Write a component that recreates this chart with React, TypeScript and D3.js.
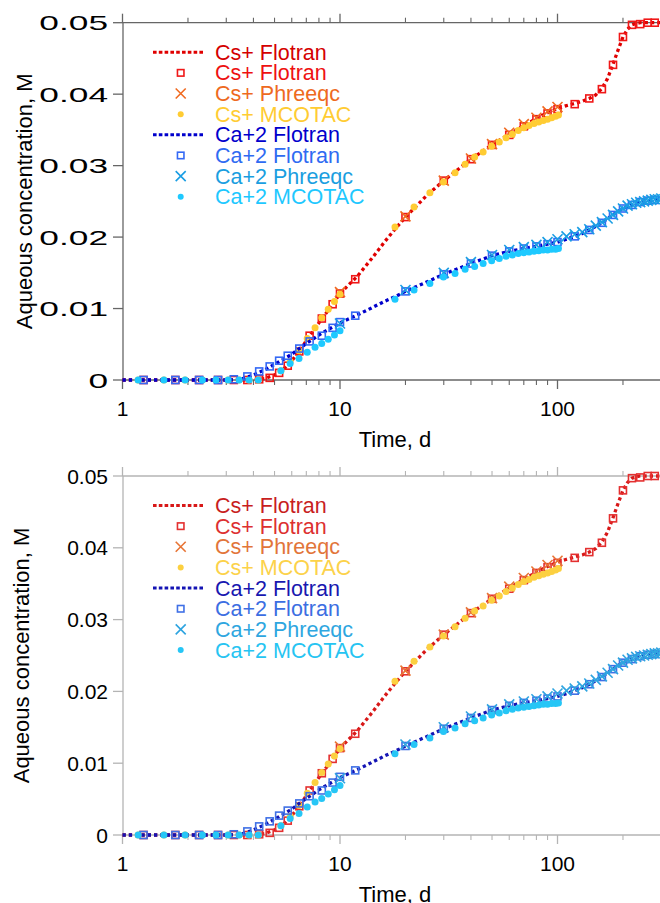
import React from "react";
import * as d3 from "d3";

// ---------- data ----------
const lineT = [1, 2, 3, 3.5, 3.75, 4, 4.25, 4.5, 5, 5.5, 6, 6.5, 7, 7.5, 8, 9, 10, 12, 14, 16, 18, 20, 25, 30, 35, 40, 50, 60, 70, 80, 90, 100, 110, 120, 130, 140, 150, 160, 170, 180, 190, 200, 210, 220, 230, 240, 260, 280, 300];
const csLineC = [0, 0, 0, 0, 0, 0, 0.0001, 0.0002, 0.0007, 0.0015, 0.0027, 0.004, 0.0055, 0.0068, 0.008, 0.0101, 0.0121, 0.0145, 0.017, 0.0193, 0.0212, 0.0228, 0.0258, 0.0279, 0.0295, 0.0309, 0.0329, 0.0344, 0.0356, 0.0366, 0.0374, 0.038, 0.0384, 0.0387, 0.039, 0.0394, 0.0399, 0.0408, 0.0422, 0.0442, 0.0462, 0.048, 0.0491, 0.0497, 0.0499, 0.05, 0.05, 0.05, 0.05];
const caLineC = [0, 0, 0, 0.0001, 0.0004, 0.0007, 0.0011, 0.0014, 0.0022, 0.0029, 0.0036, 0.0044, 0.0051, 0.0057, 0.0063, 0.0072, 0.008, 0.0091, 0.0101, 0.011, 0.0117, 0.0124, 0.0137, 0.0148, 0.0156, 0.0163, 0.0174, 0.018, 0.0184, 0.0187, 0.019, 0.0193, 0.0197, 0.0201, 0.0205, 0.021, 0.0215, 0.022, 0.0226, 0.0231, 0.0236, 0.024, 0.0243, 0.0245, 0.0247, 0.0249, 0.0251, 0.0252, 0.0253];

const flotranT = [1.25, 1.75, 2.25, 2.75, 3.25, 3.75, 4.25, 4.75, 5.25, 5.75, 6.5, 7.25, 8.25, 9.25, 10, 11.75, 20, 30, 40, 50, 60, 70, 80, 90, 100, 120, 140, 160, 180, 200, 220, 240, 260, 280];
const csFlotranC = [0, 0, 0, 0, 0, 0, 0.0001, 0.0003, 0.001, 0.002, 0.004, 0.0062, 0.0086, 0.0106, 0.0121, 0.0141, 0.0228, 0.0279, 0.0309, 0.0329, 0.0343, 0.0355, 0.0365, 0.0373, 0.0379, 0.0386, 0.0394, 0.0407, 0.0441, 0.048, 0.0497, 0.0498, 0.05, 0.05];
const caFlotranC = [0, 0, 0, 0, 0.0001, 0.0005, 0.0012, 0.0019, 0.0027, 0.0034, 0.0044, 0.0054, 0.0062, 0.0073, 0.0081, 0.009, 0.0124, 0.0148, 0.0163, 0.0174, 0.018, 0.0184, 0.0187, 0.019, 0.0193, 0.0201, 0.021, 0.022, 0.0231, 0.024, 0.0245, 0.0249, 0.0251, 0.0252];

const csPhreeqcT = [10, 20, 30, 40, 50, 60, 70, 80, 90, 100];
const csPhreeqcC = [0.0123, 0.0229, 0.0279, 0.031, 0.033, 0.0346, 0.0358, 0.0367, 0.0376, 0.0382];
const caPhreeqcT = [10, 20, 30, 40, 50, 60, 70, 80, 90, 100, 110, 120, 130, 140, 150, 160, 170, 180, 190, 200, 210, 220, 230, 240, 250, 260, 270, 280, 290, 300];
const caPhreeqcC = [0.0079, 0.0126, 0.015, 0.0165, 0.0175, 0.0182, 0.0186, 0.0189, 0.0193, 0.0197, 0.0201, 0.0204, 0.0207, 0.0211, 0.0216, 0.0221, 0.0226, 0.0231, 0.0236, 0.024, 0.0244, 0.0246, 0.0248, 0.0249, 0.025, 0.0251, 0.0252, 0.0253, 0.0253, 0.0254];

const mcotacT = [1.18, 1.55, 1.94, 2.33, 2.69, 3.06, 3.44, 3.82, 4.21, 5.35, 5.9, 6.48, 7.07, 7.68, 8.24, 8.83, 9.43, 10, 17.9, 21.9, 25.9, 29.9, 33.8, 37.6, 41.6, 45.5, 49.8, 54, 58, 62, 66, 70, 74, 78, 82, 86, 90, 94, 98, 101];
const csMcotacC = [0, 0, 0, 0, 0, 0, 0, 0, 0, 0.0013, 0.0026, 0.0041, 0.0058, 0.0073, 0.0087, 0.0099, 0.011, 0.012, 0.0214, 0.0242, 0.0262, 0.0277, 0.029, 0.0302, 0.0312, 0.0319, 0.0327, 0.0333, 0.0339, 0.0344, 0.0349, 0.0353, 0.0356, 0.0359, 0.0361, 0.0363, 0.0365, 0.0367, 0.0369, 0.0371];
const caMcotacC = [0, 0, 0, 0, 0, 0, 0, 0, 0, 0.0013, 0.0023, 0.003, 0.0039, 0.0046, 0.0051, 0.0057, 0.0063, 0.0069, 0.0113, 0.0126, 0.0135, 0.0144, 0.0149, 0.0155, 0.0159, 0.0163, 0.0167, 0.017, 0.0173, 0.0175, 0.0177, 0.0178, 0.0179, 0.018, 0.0181, 0.0182, 0.0182, 0.0183, 0.0183, 0.0184];

const legendLabels = ["Cs+ Flotran", "Cs+ Flotran", "Cs+ Phreeqc", "Cs+ MCOTAC", "Ca+2 Flotran", "Ca+2 Flotran", "Ca+2 Phreeqc", "Ca+2 MCOTAC"];
const legendKinds = ["line", "square", "x", "dot", "line", "square", "x", "dot"];
const xMajorTicks = [1, 10, 100];
const xMajorLabels = ["1", "10", "100"];
const xMinorTicks = [2, 3, 4, 5, 6, 7, 8, 9, 20, 30, 40, 50, 60, 70, 80, 90, 200, 300];
const yTicks = [0, 0.01, 0.02, 0.03, 0.04, 0.05];
const yTickLabels = ["0", "0.01", "0.02", "0.03", "0.04", "0.05"];
const xTitle = "Time, d";
const yTitle = "Aqueous concentration, M";

const FONT = "'Liberation Sans', Arial, Helvetica, sans-serif";

type Palette = {
  csLine: string; csSq: string; csX: string; csDot: string;
  caLine: string; caSq: string; caX: string; caDot: string;
  text: string[]; axis: string;
};

const pal1: Palette = {
  csLine: "#e00000", csSq: "#f01818", csX: "#f06a20", csDot: "#ffcc33",
  caLine: "#0000cc", caSq: "#3469f5", caX: "#1a9ee4", caDot: "#1ec9ff",
  text: ["#d40000", "#ee1111", "#ee6a1e", "#ffcc33", "#0000cc", "#2f6bf2", "#1a9ee0", "#1ec8ff"],
  axis: "#666666",
};
const pal2: Palette = {
  csLine: "#d81818", csSq: "#e43030", csX: "#e87434", csDot: "#fcd040",
  caLine: "#1414b4", caSq: "#3f70e6", caX: "#2ea4e0", caDot: "#26c6f6",
  text: ["#c81e1e", "#dd3030", "#e2753a", "#fcd24a", "#1818b0", "#3c6ee2", "#2ea6e0", "#26c4f2"],
  axis: "#b4b4b4",
};

function Square({ x, y, c, s = 7 }: any) {
  return <rect x={x - s / 2} y={y - s / 2} width={s} height={s} fill="none" stroke={c} strokeWidth={1.6} />;
}
function Cross({ x, y, c, s = 5 }: any) {
  return <path d={`M${x - s},${y - s}L${x + s},${y + s}M${x - s},${y + s}L${x + s},${y - s}`} stroke={c} strokeWidth={1.6} fill="none" />;
}

function Panel({ y0, y1, p, yTitleX, yLabStretch }: { y0: number; y1: number; p: Palette; yTitleX: number; yLabStretch: number }) {
  const x = d3.scaleLog().domain([1, 100]).range([122.5, 557.5]);
  const y = d3.scaleLinear().domain([0, 0.05]).range([y0, y1]);
  const xL = 123, xR = 662;
  const line = d3.line<number>().x((_, i) => x(lineT[i])).y((d) => y(d));
  const legTop = y1 + 29.5;
  const step = 20.65;
  const markerColors = [p.csLine, p.csSq, p.csX, p.csDot, p.caLine, p.caSq, p.caX, p.caDot];
  return (
    <g>
      {/* axes */}
      <line x1={xL} x2={xR} y1={y0} y2={y0} stroke={p.axis} strokeWidth={1.3} />
      <line x1={xL} x2={xR} y1={y1} y2={y1} stroke={p.axis} strokeWidth={1.3} />
      <line x1={xL} x2={xL} y1={y0} y2={y1} stroke={p.axis} strokeWidth={1.3} />
      {xMajorTicks.map((t) => (
        <g key={"M" + t}>
          <line x1={x(t)} x2={x(t)} y1={y0} y2={y0 + 9} stroke={p.axis} strokeWidth={1.3} />
          <line x1={x(t)} x2={x(t)} y1={y1} y2={y1 - 9} stroke={p.axis} strokeWidth={1.3} />
        </g>
      ))}
      {xMinorTicks.map((t) => (
        <g key={"m" + t}>
          <line x1={x(t)} x2={x(t)} y1={y0} y2={y0 + 5} stroke={p.axis} strokeWidth={1.1} />
          <line x1={x(t)} x2={x(t)} y1={y1} y2={y1 - 5} stroke={p.axis} strokeWidth={1.1} />
        </g>
      ))}
      {xMajorTicks.map((t, i) => (
        <text key={"xl" + t} x={x(t)} y={y0 + 36} textAnchor="middle" fontFamily={FONT} fontSize={21} fill="#000">{xMajorLabels[i]}</text>
      ))}
      {yTicks.map((v, i) => (
        <g key={"y" + v}>
          <line x1={xL - 10} x2={xL} y1={y(v)} y2={y(v)} stroke={p.axis} strokeWidth={1.3} />
          <text transform={`translate(108,${y(v) + 7.5}) scale(${yLabStretch},1)`} textAnchor="end" fontFamily={FONT} fontSize={21} fill="#000">{yTickLabels[i]}</text>
        </g>
      ))}
      <text x={395} y={y0 + 67} textAnchor="middle" fontFamily={FONT} fontSize={22} fill="#000">{xTitle}</text>
      <text transform={`translate(${yTitleX},${(y0 + y1) / 2}) rotate(-90)`} textAnchor="middle" fontFamily={FONT} fontSize={22} fill="#000">{yTitle}</text>

      {/* Cs+ */}
      <path d={line(csLineC) || ""} fill="none" stroke={p.csLine} strokeWidth={3.3} strokeDasharray="3.3,3" />
      {flotranT.map((t, i) => <Square key={"cs" + i} x={x(t)} y={y(csFlotranC[i])} c={p.csSq} />)}
      {csPhreeqcT.map((t, i) => <Cross key={"cx" + i} x={x(t)} y={y(csPhreeqcC[i])} c={p.csX} />)}
      {mcotacT.map((t, i) => <circle key={"cd" + i} cx={x(t)} cy={y(csMcotacC[i])} r={3.5} fill={p.csDot} />)}
      {/* Ca+2 */}
      <path d={line(caLineC) || ""} fill="none" stroke={p.caLine} strokeWidth={3.3} strokeDasharray="3.3,3" />
      {flotranT.map((t, i) => <Square key={"ca" + i} x={x(t)} y={y(caFlotranC[i])} c={p.caSq} />)}
      {caPhreeqcT.map((t, i) => <Cross key={"ax" + i} x={x(t)} y={y(caPhreeqcC[i])} c={p.caX} />)}
      {mcotacT.map((t, i) => <circle key={"ad" + i} cx={x(t)} cy={y(caMcotacC[i])} r={3.5} fill={p.caDot} />)}

      {/* legend */}
      {legendLabels.map((lab, i) => {
        const cy = legTop + i * step;
        const k = legendKinds[i];
        const c = markerColors[i];
        return (
          <g key={"lg" + i}>
            {k === "line" && <line x1={153} x2={203} y1={cy} y2={cy} stroke={c} strokeWidth={3} strokeDasharray="3.6,2.2" />}
            {k === "square" && <Square x={180.7} y={cy} c={c} s={6.5} />}
            {k === "x" && <Cross x={180.7} y={cy} c={c} s={5} />}
            {k === "dot" && <circle cx={180.7} cy={cy} r={3} fill={c} />}
            <text x={215} y={cy + 7.6} fontFamily={FONT} fontSize={21.5} fill={p.text[i]}>{lab}</text>
          </g>
        );
      })}
    </g>
  );
}

export default function App() {
  return (
    <svg width={660} height={903} style={{ position: "absolute", left: 0, top: 0, background: "#fff" }}>
      <rect width={660} height={903} fill="#fff" />
      <Panel y0={380} y1={22.7} p={pal1} yTitleX={32} yLabStretch={1.68} />
      <Panel y0={835} y1={476} p={pal2} yTitleX={29} yLabStretch={1} />
    </svg>
  );
}
